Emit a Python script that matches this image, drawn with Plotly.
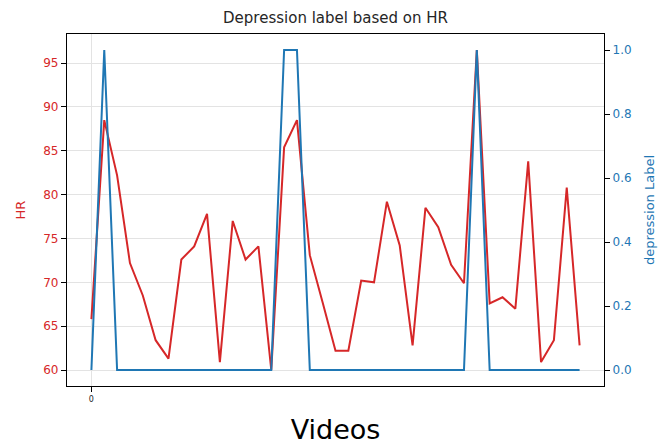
import plotly.graph_objects as go

videos = list(range(39))
hr = [65.8, 88.5, 82.2, 72.2, 68.5, 63.4, 61.3, 72.6, 74.1, 77.8,
      60.9, 77.0, 72.6, 74.1, 60.0, 85.4, 88.5, 73.1, 67.7, 62.2,
      62.2, 70.2, 70.0, 79.2, 74.2, 62.8, 78.5, 76.3, 72.0, 69.9,
      96.5, 67.6, 68.3, 67.0, 83.8, 60.9, 63.4, 80.8, 62.8]
depression = [0, 1, 0, 0, 0, 0, 0, 0, 0, 0,
              0, 0, 0, 0, 0, 1, 1, 0, 0, 0,
              0, 0, 0, 0, 0, 0, 0, 0, 0, 0,
              1, 0, 0, 0, 0, 0, 0, 0, 0]
hr_ticks = [60, 65, 70, 75, 80, 85, 90, 95]
dep_ticks = [0.0, 0.2, 0.4, 0.6, 0.8, 1.0]
dep_tick_text = ["0.0", "0.2", "0.4", "0.6", "0.8", "1.0"]

RED = "#d62728"
BLUE = "#1f77b4"
FONT = "DejaVu Sans"

fig = go.Figure()
fig.add_trace(go.Scatter(x=videos, y=hr, mode="lines",
                         line=dict(color=RED, width=2), yaxis="y", showlegend=False))
fig.add_trace(go.Scatter(x=videos, y=depression, mode="lines",
                         line=dict(color=BLUE, width=2), yaxis="y2", showlegend=False))

fig.update_layout(
    width=667, height=446,
    margin=dict(l=67, r=63, t=34, b=60),
    paper_bgcolor="white", plot_bgcolor="white",
    font=dict(family=FONT, size=12, color="#262626"),
    title=dict(text="Depression label based on HR", x=0.5, xref="paper",
               y=0.96, yref="container", yanchor="middle",
               font=dict(family=FONT, size=15, color="#262626")),
    xaxis=dict(range=[-1.9, 39.9], tickvals=[0], ticktext=["0"],
               automargin=False,
               tickfont=dict(size=8, color="#262626"),
               ticks="outside", ticklen=5, tickcolor="black",
               showgrid=True, gridcolor="#e3e3e3", gridwidth=1,
               showline=True, linecolor="black", linewidth=1.2, mirror=True,
               zeroline=False,
               title=dict(text="Videos", font=dict(family=FONT, size=27, color="black"),
                          standoff=17)),
    yaxis=dict(range=[58.175, 98.325], tickvals=hr_ticks,
               automargin=False,
               tickfont=dict(color=RED, size=12),
               ticks="outside", ticklen=5, tickcolor="black",
               showgrid=True, gridcolor="#e3e3e3", gridwidth=1,
               showline=True, linecolor="black", linewidth=1.2, mirror=True,
               zeroline=False,
               title=dict(text="HR", font=dict(color=RED, size=13), standoff=14)),
    yaxis2=dict(range=[-0.05, 1.05], tickvals=dep_ticks, ticktext=dep_tick_text,
                overlaying="y", side="right", automargin=False,
                tickfont=dict(color=BLUE, size=12),
                ticks="outside", ticklen=5, tickcolor="black",
                showgrid=False, zeroline=False,
                showline=True, linecolor="black", linewidth=1.2,
                title=dict(text="depression Label", font=dict(color=BLUE, size=13), standoff=14)),
)

fig.write_html("out.html", config={"displayModeBar": False},
               post_script="document.body.style.margin='0';")
